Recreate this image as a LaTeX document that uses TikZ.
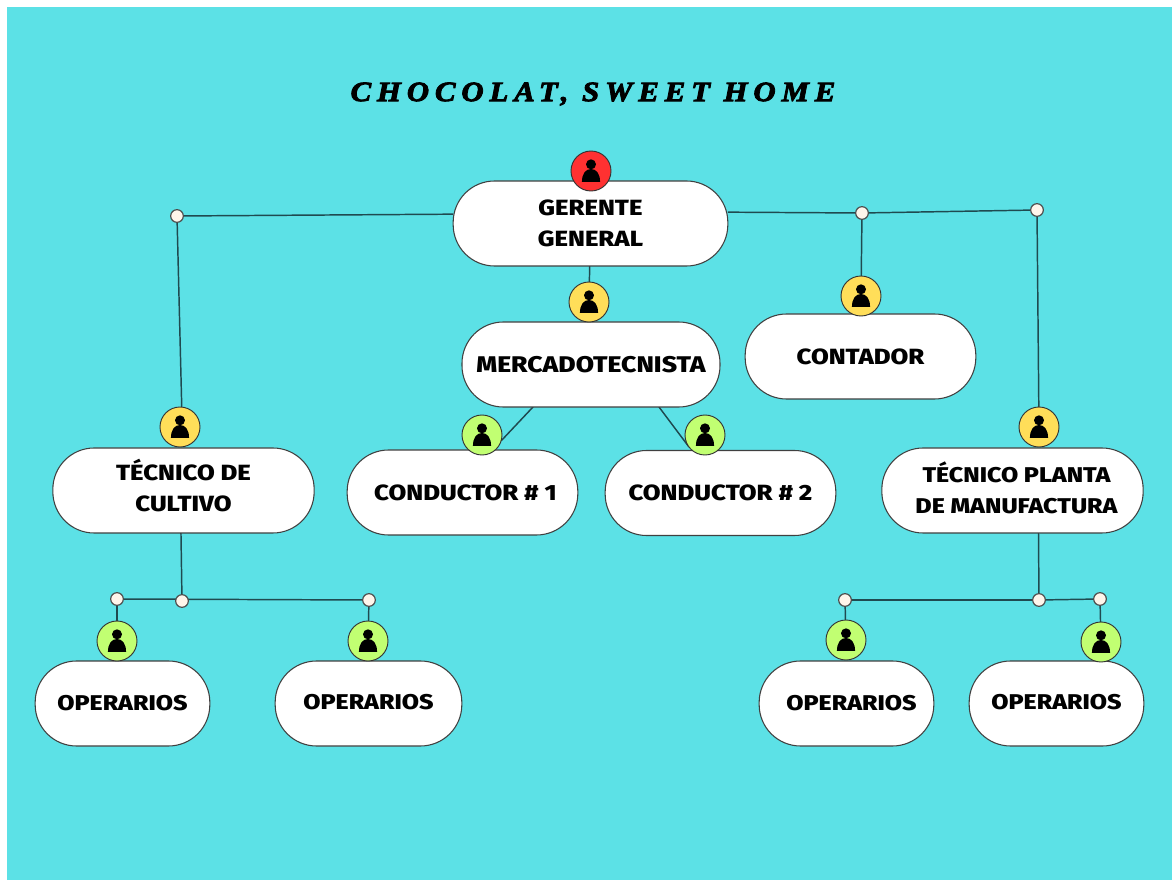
\documentclass[tikz,border=0pt]{standalone}
\usepackage{fontspec}
\setmainfont{Fira Sans}[BoldFont={Fira Sans ExtraBold},BoldFeatures={FakeStretch=1.17}]
\newfontfamily\titlefont[LetterSpace=21,FakeStretch=1.1,FakeBold=3]{Liberation Serif}
\usepackage{xcolor}
\usetikzlibrary{calc, positioning, backgrounds}
\definecolor{sea}{HTML}{5CE1E6}
\definecolor{redbadge}{HTML}{FF3131}
\definecolor{yellowbadge}{HTML}{FFDE59}
\definecolor{greenbadge}{HTML}{C1FF72}
\definecolor{wire}{HTML}{1F4A50}
\tikzset{
	x = .75pt,
	y = -.75pt,
	line width = .75pt,
	box/.style={
		draw=black!75,
		fill=white,
		rectangle,
		rounded corners=31pt,
		line width=.8pt,
		outer sep=0pt,
		minimum height=63.75pt,
		align=center,
		font=\fontsize{16.5}{23}\selectfont\bfseries
	},
	small box/.style={
		box,
		font=\fontsize{16}{23}\selectfont\bfseries
	},
	dot/.style={
		draw=black!70,
		fill=white!92!orange,
		circle,
		line width=.9pt,
		outer sep=0pt,
		inner sep=0pt,
		minimum size=9.5pt
	},
	badge/.style={
		draw=black!80,
		fill=#1,
		circle,
		line width=.7pt,
		outer sep=0pt,
		inner sep=0pt,
		minimum size=30pt,
		path picture={
			\fill[black] ([yshift=5pt]path picture bounding box.center) circle (3.75pt);
			\fill[black, shift={(path picture bounding box.center)}] (-6.8pt,-8.2pt) -- (6.8pt,-8.2pt) .. controls (6.8pt,-2pt) and (4pt,1.5pt) .. (0pt,1.5pt) .. controls (-4pt,1.5pt) and (-6.8pt,-2pt) .. cycle;
		}
	},
	wire/.style={
		draw=wire,
		line width=1.1pt
	}
}

\begin{document}
\begin{tikzpicture}
\useasboundingbox (0,0) rectangle (1172,880);

\node[font=\titlefont\fontsize{21}{21}\selectfont\bfseries\itshape] (title) at (593,94) {CHOCOLAT, SWEET HOME};

\node[box, minimum width=206pt] (ger) at (590.5,223.5) {GERENTE\\GENERAL};
\node[box, minimum width=193.5pt, font=\fontsize{17}{23}\selectfont\bfseries] (merc) at (591,364.5) {MERCADOTECNISTA};
\node[box, minimum width=173pt] (cont) at (860.5,356.5) {CONTADOR};
\node[box, minimum width=196pt, text depth=7.5pt] (tecc) at (183.5,490.5) {TÉCNICO DE\\CULTIVO};
\node[box, minimum width=173pt] (cond1) at (462.5,492.5) {\hspace*{4.5pt}CONDUCTOR \# 1};
\node[box, minimum width=173pt] (cond2) at (720.5,493) {CONDUCTOR \# 2};
\node[small box, minimum width=196pt, text depth=4pt] (tecp) at (1012.5,490.5) {\hspace*{6pt}TÉCNICO PLANTA\\\hspace*{6pt}DE MANUFACTURA};
\node[small box, minimum width=131pt] (op1) at (122.5,703.5) {OPERARIOS};
\node[small box, minimum width=140pt, text depth=3pt] (op2) at (368.5,703.5) {OPERARIOS};
\node[small box, minimum width=131pt] (op3) at (846.5,703.5) {\hspace*{7.5pt}OPERARIOS};
\node[small box, minimum width=131pt, text depth=3pt] (op4) at (1056.5,703.5) {OPERARIOS};

\node[badge=redbadge] (bger) at (591,171) {};
\node[badge=yellowbadge] (bmerc) at (589,302) {};
\node[badge=yellowbadge] (bcont) at (861,296) {};
\node[badge=yellowbadge] (btecc) at (180,427) {};
\node[badge=yellowbadge] (btecp) at (1039,427) {};
\node[badge=greenbadge] (bcond1) at (482,435) {};
\node[badge=greenbadge] (bcond2) at (705,435) {};
\node[badge=greenbadge] (bop1) at (117,641) {};
\node[badge=greenbadge] (bop2) at (368,641) {};
\node[badge=greenbadge] (bop3) at (846,640) {};
\node[badge=greenbadge] (bop4) at (1101,642) {};

\node[dot] (dl) at (177,216) {};
\node[dot] (dm) at (862,213) {};
\node[dot] (dr) at (1037,210) {};
\node[dot] (d1) at (117,599) {};
\node[dot] (d2) at (182,601) {};
\node[dot] (d3) at (369,600) {};
\node[dot] (d4) at (845,600) {};
\node[dot] (d5) at (1039,600) {};
\node[dot] (d6) at (1100,599) {};

\begin{scope}[on background layer]
\fill[sea] (7,7) rectangle (1172,880);

\draw[wire] (dl) -- ([yshift=7pt]ger.west);
\draw[wire] ([yshift=8.5pt]ger.east) -- (dm);
\draw[wire] (dm) -- (dr);
\draw[wire] (dl) -- (btecc.85);
\draw[wire] (dm) -- (bcont);
\draw[wire] (dr) -- (btecp);
\draw[wire] (ger) -- (bmerc);

\draw[wire] ([xshift=-43.5pt]merc.south) -- (bcond1.-17);
\draw[wire] ([xshift=51pt]merc.south) -- (bcond2.217);

\draw[wire] ([xshift=-1.9pt]tecc.south) -- (d2);
\draw[wire] (d1) -- (d3);
\draw[wire] (d1) -- (bop1);
\draw[wire] (d3) -- (bop2);

\draw[wire] ([xshift=19.5pt]tecp.south) -- (d5);
\draw[wire] (d4) -- (d5);
\draw[wire] (d5) -- (d6);
\draw[wire] (d4) -- (bop3);
\draw[wire] (d6) -- (bop4);
\end{scope}
\end{tikzpicture}
\end{document}
